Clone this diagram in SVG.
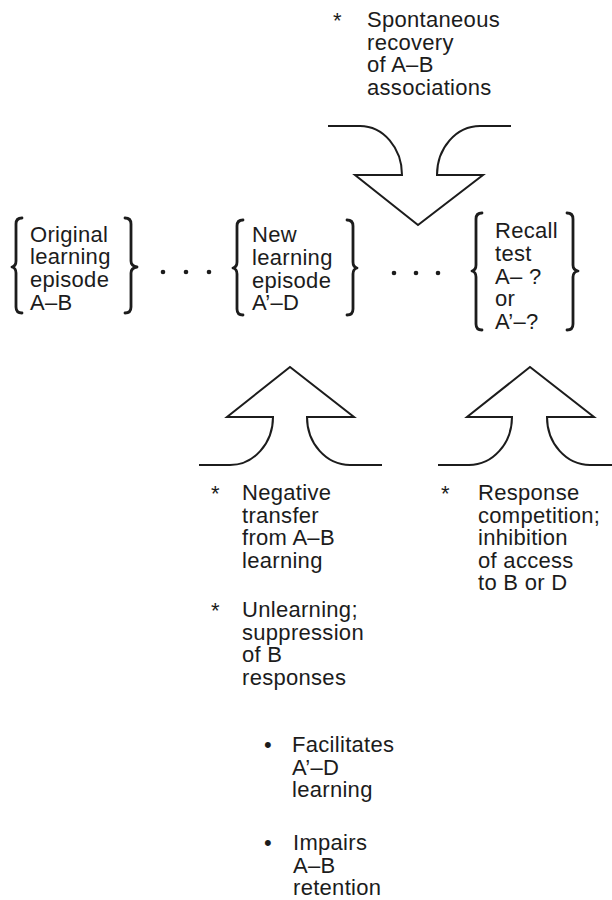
<svg xmlns="http://www.w3.org/2000/svg" width="612" height="900" viewBox="0 0 612 900">
<style>
  text { font-family: "Liberation Sans", Arial, Helvetica, sans-serif; font-size: 22px; fill: #1c1c1c; letter-spacing: 0.3px; }
  .brace { fill: none; stroke: #1c1c1c; stroke-width: 2.8; stroke-linecap: round; stroke-linejoin: round; }
  .arrow { fill: #ffffff; stroke: #1c1c1c; stroke-width: 2; stroke-linejoin: miter; }
  .dot { fill: #1c1c1c; }
</style>
<rect width="612" height="900" fill="#ffffff"/>

<g id="connectors">
  <path class="arrow" d="M 328 126 L 360 126 A 42 49 0 0 1 402 175 L 355 175 L 418 225 L 483 175 L 437 175 A 43 49 0 0 1 480 126 L 511 126"/>
  <path class="arrow" d="M 199 465 L 230 465 A 43 48 0 0 0 273 417 L 227 417 L 290 367 L 354 417 L 307 417 A 43 48 0 0 0 350 465 L 382 465"/>
  <path class="arrow" d="M 438 465 L 469 465 A 43 48 0 0 0 512 417 L 467 417 L 530 367 L 594 417 L 547 417 A 43 48 0 0 0 590 465 L 614 465"/>
  <circle class="dot" cx="163" cy="272" r="2.3"/>
  <circle class="dot" cx="186" cy="272" r="2.3"/>
  <circle class="dot" cx="209" cy="272" r="2.3"/>
  <circle class="dot" cx="394" cy="273" r="2.3"/>
  <circle class="dot" cx="416" cy="273" r="2.3"/>
  <circle class="dot" cx="438" cy="273" r="2.3"/>
</g>

<g id="node-original">
  <path class="brace" d="M 22 218 Q 16 218 16 224 L 16 261 Q 16 266 12 267 Q 16 268 16 273 L 16 307 Q 16 313 22 313"/>
  <path class="brace" d="M 125 218 Q 131 218 131 224 L 131 261 Q 131 266 137 267 Q 131 268 131 273 L 131 307 Q 131 313 125 313"/>
  <text x="30" y="241.5">Original</text>
  <text x="30" y="264.3">learning</text>
  <text x="30" y="287.1">episode</text>
  <text x="30" y="309.9">A–B</text>
</g>

<g id="node-new">
  <path class="brace" d="M 243 220 Q 237 220 237 226 L 237 262 Q 237 267 233 268 Q 237 269 237 274 L 237 309 Q 237 315 243 315"/>
  <path class="brace" d="M 347 220 Q 353 220 353 226 L 353 262 Q 353 267 357 268 Q 353 269 353 274 L 353 309 Q 353 315 347 315"/>
  <text x="252" y="242">New</text>
  <text x="252" y="264.8">learning</text>
  <text x="252" y="287.6">episode</text>
  <text x="252" y="310.4">A’–D</text>
</g>

<g id="node-recall">
  <path class="brace" d="M 482 213 Q 476 213 476 219 L 476 265 Q 476 270 472 271 Q 476 272 476 277 L 476 324 Q 476 330 482 330"/>
  <path class="brace" d="M 567 213 Q 573 213 573 219 L 573 265 Q 573 270 578 271 Q 573 272 573 277 L 573 324 Q 573 330 567 330"/>
  <text x="495" y="238">Recall</text>
  <text x="495" y="260.8">test</text>
  <text x="495" y="283.6">A– ?</text>
  <text x="495" y="306.4">or</text>
  <text x="495" y="329.2">A’–?</text>
</g>

<g id="label-spontaneous">
  <text x="333" y="28">*</text>
  <text x="367" y="27">Spontaneous</text>
  <text x="367" y="49.5">recovery</text>
  <text x="367" y="72">of A–B</text>
  <text x="367" y="94.5">associations</text>
</g>

<g id="label-negative">
  <text x="211" y="501">*</text>
  <text x="242" y="500">Negative</text>
  <text x="242" y="522.5">transfer</text>
  <text x="242" y="545">from A–B</text>
  <text x="242" y="567.5">learning</text>
</g>

<g id="label-unlearning">
  <text x="211" y="618">*</text>
  <text x="242" y="617">Unlearning;</text>
  <text x="242" y="639.5">suppression</text>
  <text x="242" y="662">of B</text>
  <text x="242" y="684.5">responses</text>
</g>

<g id="label-facilitates">
  <text x="264" y="752">•</text>
  <text x="292" y="752">Facilitates</text>
  <text x="292" y="774.5">A’–D</text>
  <text x="292" y="797">learning</text>
</g>

<g id="label-impairs">
  <text x="264" y="850">•</text>
  <text x="293" y="850">Impairs</text>
  <text x="293" y="872.5">A–B</text>
  <text x="293" y="895">retention</text>
</g>

<g id="label-response">
  <text x="441" y="501">*</text>
  <text x="478" y="500">Response</text>
  <text x="478" y="522.5">competition;</text>
  <text x="478" y="545">inhibition</text>
  <text x="478" y="567.5">of access</text>
  <text x="478" y="590">to B or D</text>
</g>
</svg>
